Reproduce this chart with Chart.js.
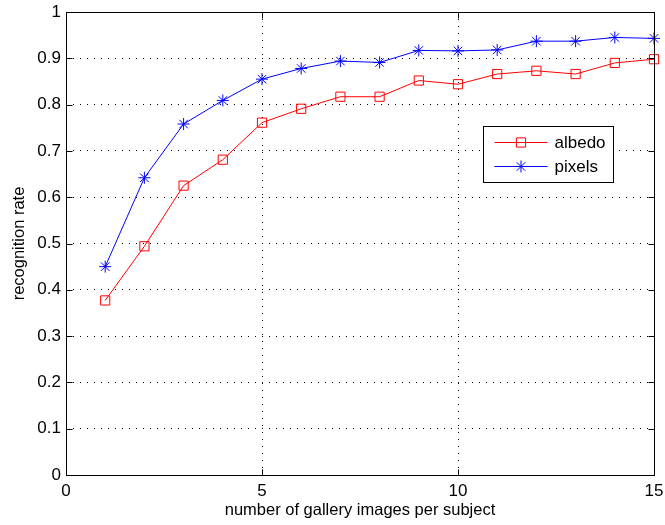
<!DOCTYPE html>
<html>
<head>
<meta charset="utf-8">
<script src="https://cdn.jsdelivr.net/npm/chart.js@4/dist/chart.umd.min.js"></script>
<style>
  html, body { margin: 0; padding: 0; background: #fff; }
  #wrap { width: 665px; height: 525px; }
</style>
</head>
<body>
<div id="wrap"><canvas id="recogChart" width="665" height="525"></canvas></div>
<script>
// values
const galleryImages = [1, 2, 3, 4, 5, 6, 7, 8, 9, 10, 11, 12, 13, 14, 15];
const albedoRate = [0.377, 0.494, 0.625, 0.681, 0.761, 0.791, 0.817, 0.817, 0.852, 0.844, 0.866, 0.873, 0.866, 0.890, 0.898];
const pixelsRate = [0.450, 0.642, 0.758, 0.809, 0.855, 0.878, 0.894, 0.891, 0.917, 0.916, 0.918, 0.937, 0.937, 0.945, 0.943];
const xTicks = [0, 5, 10, 15];
const yTicks = [0, 0.1, 0.2, 0.3, 0.4, 0.5, 0.6, 0.7, 0.8, 0.9, 1];

const FONT = 'Liberation Sans, Arial, Helvetica, sans-serif';

function toPoints(ys) {
  return galleryImages.map((x, i) => ({ x: x, y: ys[i] }));
}

function drawMarker(ctx, style, x, y, r, color) {
  ctx.save();
  ctx.strokeStyle = color;
  ctx.lineWidth = 1;
  ctx.beginPath();
  if (style === 'rect') {
    const s = Math.SQRT1_2 * r;
    ctx.rect(x - s, y - s, 2 * s, 2 * s);
  } else {
    ctx.moveTo(x - r, y); ctx.lineTo(x + r, y);
    ctx.moveTo(x, y - r); ctx.lineTo(x, y + r);
    const d = r * Math.SQRT1_2;
    ctx.moveTo(x - d, y - d); ctx.lineTo(x + d, y + d);
    ctx.moveTo(x - d, y + d); ctx.lineTo(x + d, y - d);
  }
  ctx.stroke();
  ctx.restore();
}

// box round the axes, inward ticks (matlab style) and the legend
const axesBox = {
  id: 'axesBox',
  afterDraw(chart) {
    const { ctx, chartArea: a, scales: { x, y } } = chart;
    const L = Math.round(a.left) + 0.5, R = Math.round(a.right) + 0.5;
    const T = Math.round(a.top) + 0.5, B = Math.round(a.bottom) + 0.5;
    ctx.save();
    ctx.strokeStyle = '#000';
    ctx.lineWidth = 1;
    ctx.beginPath();
    xTicks.forEach(v => {
      const px = Math.round(x.getPixelForValue(v)) + 0.5;
      ctx.moveTo(px, B); ctx.lineTo(px, B - 6);
      ctx.moveTo(px, T); ctx.lineTo(px, T + 6);
    });
    yTicks.forEach(v => {
      const py = Math.round(y.getPixelForValue(v)) + 0.5;
      ctx.moveTo(L, py); ctx.lineTo(L + 6, py);
      ctx.moveTo(R, py); ctx.lineTo(R - 6, py);
    });
    ctx.stroke();
    ctx.strokeRect(L, T, R - L, B - T);

    // legend
    const bx = Math.round(a.right) - 171 + 0.5, by = Math.round(a.top) + 114 + 0.5;
    const bw = 130, bh = 56;
    ctx.fillStyle = '#fff';
    ctx.fillRect(bx, by, bw, bh);
    ctx.strokeRect(bx, by, bw, bh);
    ctx.font = '17px ' + FONT;
    ctx.textBaseline = 'middle';
    chart.data.datasets.forEach((ds, i) => {
      const ly = by + 16 + i * 24;
      ctx.strokeStyle = ds.borderColor;
      ctx.beginPath();
      ctx.moveTo(bx + 11, ly); ctx.lineTo(bx + 64, ly);
      ctx.stroke();
      drawMarker(ctx, ds.pointStyle, bx + 37.5, ly, ds.pointRadius, ds.borderColor);
      ctx.fillStyle = '#000';
      ctx.fillText(ds.label, bx + 71, ly + 1);
    });
    ctx.restore();
  }
};

const ctx = document.getElementById('recogChart').getContext('2d');
new Chart(ctx, {
  type: 'line',
  data: {
    datasets: [{
      label: 'albedo',
      data: toPoints(albedoRate),
      borderColor: '#ff0000',
      backgroundColor: 'transparent',
      borderWidth: 1,
      pointStyle: 'rect',
      pointRadius: 6.5,
      pointBorderWidth: 1,
      pointBorderColor: '#ff0000',
      pointBackgroundColor: 'transparent',
      tension: 0,
      clip: false
    }, {
      label: 'pixels',
      data: toPoints(pixelsRate),
      borderColor: '#0000ff',
      backgroundColor: 'transparent',
      borderWidth: 1,
      pointStyle: 'star',
      pointRadius: 6,
      pointBorderWidth: 1,
      pointBorderColor: '#0000ff',
      pointBackgroundColor: 'transparent',
      tension: 0,
      clip: false
    }]
  },
  options: {
    responsive: false,
    animation: false,
    events: [],
    layout: { padding: { top: 12, right: 11, left: 0, bottom: 0 } },
    plugins: { legend: { display: false }, tooltip: { enabled: false } },
    scales: {
      x: {
        type: 'linear',
        min: 0, max: 15,
        afterBuildTicks: s => { s.ticks = xTicks.map(v => ({ value: v })); },
        afterFit: s => { s.height = 50; s.paddingLeft = 0; s.paddingRight = 0; },
        ticks: { color: '#000', padding: 6, maxRotation: 0, font: { family: FONT, size: 17 } },
        grid: { color: '#000', lineWidth: 1, drawTicks: false },
        border: { display: false, dash: [1, 6] },
        title: { display: true, text: 'number of gallery images per subject', color: '#000',
                 padding: { top: 0, bottom: 5 }, font: { family: FONT, size: 16.5 } }
      },
      y: {
        min: 0, max: 1,
        afterBuildTicks: s => { s.ticks = yTicks.map(v => ({ value: v })); },
        afterFit: s => { s.width = 66; s.paddingTop = 0; s.paddingBottom = 0; },
        ticks: { color: '#000', padding: 5, callback: v => String(+v.toFixed(1)), font: { family: FONT, size: 17 } },
        grid: { color: '#000', lineWidth: 1, drawTicks: false },
        border: { display: false, dash: [1, 6] },
        title: { display: true, text: 'recognition rate', color: '#000',
                 padding: { top: 10, bottom: 0 }, font: { family: FONT, size: 16.5 } }
      }
    }
  },
  plugins: [axesBox]
});
</script>
</body>
</html>
